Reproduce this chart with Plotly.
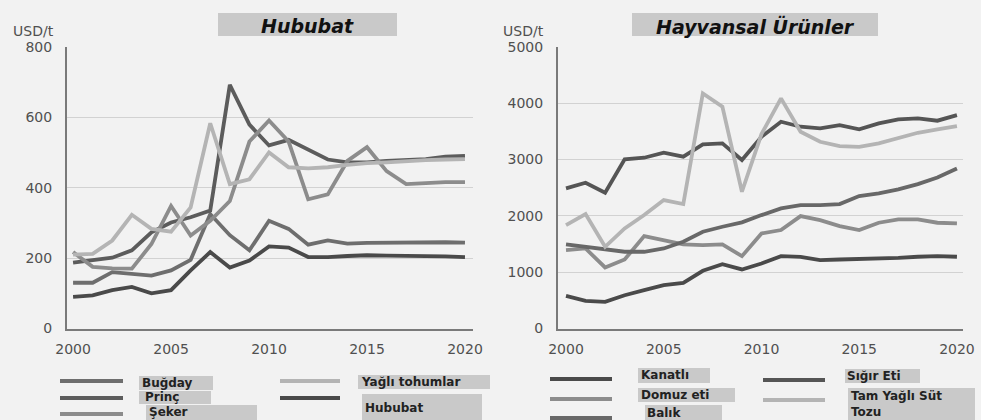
import plotly.graph_objects as go

# Years shared by both panels
years = list(range(2000, 2021))

# Hububat panel (USD/t)
hububat = [90, 94, 109, 118, 100, 109, 165, 217, 173, 193, 233, 230, 203, 203, 206, 208, 207, 207, 206, 205, 203]
bugday = [130, 130, 160, 155, 150, 165, 195, 325, 265, 222, 306, 283, 238, 250, 241, 243, 244, 244, 245, 245, 244]
princ = [187, 193, 201, 222, 273, 301, 316, 335, 692, 579, 520, 536, 508, 480, 472, 472, 476, 479, 481, 488, 490]
seker = [217, 175, 171, 170, 240, 348, 264, 306, 362, 531, 591, 531, 367, 381, 476, 515, 447, 410, 413, 416, 416]
yagli_tohum = [210, 212, 250, 323, 283, 275, 344, 583, 410, 424, 500, 458, 455, 458, 465, 470, 472, 476, 478, 480, 481]

# Hayvansal urunler panel (USD/t)
kanatli = [579, 490, 473, 591, 680, 769, 811, 1024, 1142, 1048, 1154, 1284, 1273, 1213, 1225, 1231, 1243, 1255, 1273, 1284, 1273]
domuz = [1391, 1421, 1083, 1225, 1640, 1569, 1492, 1480, 1492, 1284, 1687, 1747, 1995, 1924, 1818, 1747, 1877, 1936, 1936, 1877, 1865]
balik = [1492, 1450, 1403, 1362, 1362, 1421, 1539, 1717, 1806, 1883, 2013, 2131, 2190, 2190, 2208, 2350, 2397, 2468, 2563, 2681, 2841]
sigir = [2486, 2587, 2409, 3001, 3031, 3120, 3049, 3267, 3285, 2990, 3403, 3670, 3581, 3551, 3610, 3534, 3640, 3711, 3729, 3688, 3788]
sut_tozu = [1835, 2030, 1450, 1776, 2013, 2279, 2208, 4173, 3937, 2427, 3450, 4085, 3492, 3314, 3237, 3225, 3285, 3374, 3474, 3533, 3592]

left_ticks = [0, 200, 400, 600, 800]
right_ticks = [0, 1000, 2000, 3000, 4000, 5000]
x_ticks = [2000, 2005, 2010, 2015, 2020]

W, H = 981, 420
BG = "#f2f2f2"
BOX = "#c9c9c9"

def px(x):
    return x / W

def py(y):
    return 1 - y / H

left_series = [
    ("Buğday", bugday, "#6e6e6e"),
    ("Prinç", princ, "#5c5c5c"),
    ("Şeker", seker, "#8c8c8c"),
    ("Yağlı tohumlar", yagli_tohum, "#b4b4b4"),
    ("Hububat", hububat, "#4a4a4a"),
]
right_series = [
    ("Kanatlı", kanatli, "#4a4a4a"),
    ("Domuz eti", domuz, "#8c8c8c"),
    ("Balık", balik, "#686868"),
    ("Sığır Eti", sigir, "#555555"),
    ("Tam Yağlı Süt Tozu", sut_tozu, "#b4b4b4"),
]

fig = go.Figure()
for name, vals, col in left_series:
    fig.add_trace(go.Scatter(x=years, y=vals, name=name, mode="lines",
                             line=dict(color=col, width=3.8), xaxis="x", yaxis="y",
                             showlegend=False))
for name, vals, col in right_series:
    fig.add_trace(go.Scatter(x=years, y=vals, name=name, mode="lines",
                             line=dict(color=col, width=3.8), xaxis="x2", yaxis="y2",
                             showlegend=False))

tick_font = dict(family="DejaVu Sans", size=14, color="#505050")
xcommon = dict(tickvals=x_ticks, showgrid=False, zeroline=False, showline=True,
               linecolor="#7a7a7a", linewidth=2, ticks="", tickfont=tick_font,
               ticklabelstandoff=7, automargin=False)
ycommon = dict(showgrid=True, gridcolor="#d2d2d2", gridwidth=1.2, zeroline=False,
               showline=True, linecolor="#7a7a7a", linewidth=2, ticks="",
               tickfont=tick_font, ticklabelstandoff=10, automargin=False)

ydom = [py(328.5), py(46.5)]
fig.update_layout(
    width=W, height=H, autosize=False,
    paper_bgcolor=BG, plot_bgcolor=BG,
    margin=dict(l=0, r=0, t=0, b=0, pad=0, autoexpand=False),
    xaxis=dict(domain=[px(67), px(473)], range=[1999.69, 2020.41], anchor="y", **xcommon),
    yaxis=dict(domain=ydom, range=[0, 801], tickvals=left_ticks, anchor="x", **ycommon),
    xaxis2=dict(domain=[px(558), px(963)], range=[1999.59, 2020.31], anchor="y2", **xcommon),
    yaxis2=dict(domain=ydom, range=[0, 5005], tickvals=right_ticks, anchor="x2", **ycommon),
)

shapes = []
annotations = []

def label(x, y, text, **kw):
    kw.setdefault("yanchor", "middle")
    kw.setdefault("xanchor", "left")
    annotations.append(dict(x=px(x), y=py(y), xref="paper", yref="paper", text=text,
                            showarrow=False, **kw))

def box(x0, x1, y0, y1):
    shapes.append(dict(type="rect", xref="paper", yref="paper", x0=px(x0), x1=px(x1),
                       y0=py(y1), y1=py(y0), fillcolor=BOX, line=dict(width=0), layer="below"))

# panel titles on gray boxes
for x0, x1, text in [(218, 397, "Hububat"), (632, 878, "Hayvansal Ürünler")]:
    box(x0, x1, 13, 36)
    label((x0 + x1) / 2, 26, "<b><i>" + text + "</i></b>", xanchor="center",
          font=dict(family="DejaVu Sans", size=19, color="#111"))

# unit labels
label(11, 31, "USD/t", font=tick_font)
label(501, 31, "USD/t", font=tick_font)

leg_font = dict(family="DejaVu Sans", size=12, color="#222")

def legend_line(x0, x1, y, col):
    shapes.append(dict(type="line", xref="paper", yref="paper", x0=px(x0), x1=px(x1),
                       y0=py(y), y1=py(y), line=dict(color=col, width=4)))

lc = {n: c for n, _, c in left_series}
rc = {n: c for n, _, c in right_series}

# left legend
legend_line(60, 123, 381, lc["Buğday"])
legend_line(60, 123, 398, lc["Prinç"])
legend_line(60, 123, 414, lc["Şeker"])
legend_line(280, 340, 381, lc["Yağlı tohumlar"])
legend_line(280, 340, 398, lc["Hububat"])
box(139, 213, 376, 390)
box(139, 211, 391, 404)
box(146, 257, 405, 422)
box(358, 490, 375, 389)
box(362, 482, 394, 422)
label(140, 383, "<b>Buğday</b>", font=leg_font)
label(143, 397, "<b>Prinç</b>", font=leg_font)
label(147, 412, "<b>Şeker</b>", font=leg_font)
label(359, 382, "<b>Yağlı tohumlar</b>", font=leg_font)
label(363, 408, "<b>Hububat</b>", font=leg_font)

# right legend
legend_line(550, 612, 379, rc["Kanatlı"])
legend_line(550, 612, 399, rc["Domuz eti"])
legend_line(550, 612, 418, rc["Balık"])
legend_line(763, 825, 380, rc["Sığır Eti"])
legend_line(763, 825, 400, rc["Tam Yağlı Süt Tozu"])
box(638, 710, 368, 383)
box(638, 735, 388, 402)
box(645, 722, 405, 422)
box(845, 920, 369, 383)
box(848, 975, 388, 422)
label(639, 375, "<b>Kanatlı</b>", font=leg_font)
label(639, 395, "<b>Domuz eti</b>", font=leg_font)
label(645, 413, "<b>Balık</b>", font=leg_font)
label(845, 376, "<b>Sığır Eti</b>", font=leg_font)
label(849, 396, "<b>Tam Yağlı Süt</b>", font=leg_font)
label(849, 412, "<b>Tozu</b>", font=leg_font)

fig.update_layout(shapes=shapes, annotations=annotations)
fig.write_html("out.html", config={"displayModeBar": False},
               post_script="document.body.style.margin='0px';"
                           "document.body.style.overflow='hidden';")
